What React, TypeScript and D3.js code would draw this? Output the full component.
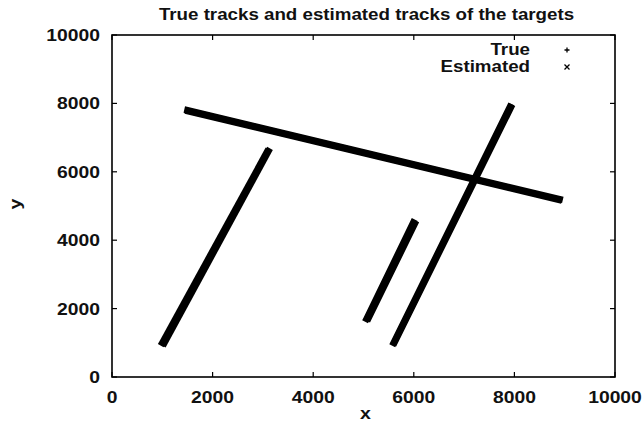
import React, { useRef, useEffect } from "react";
import * as d3 from "d3";

// track endpoints, [x, y]
const trueTracks: [number, number][][] = [
  [[1000, 1000], [3080, 6580]],
  [[1500, 7800], [8900, 5200]],
  [[5100, 1720], [6020, 4480]],
  [[5620, 1020], [7930, 7880]],
];
const estTracks: [number, number][][] = [
  [[1040, 990], [3110, 6600]],
  [[1520, 7770], [8880, 5180]],
  [[5060, 1700], [5990, 4520]],
  [[5600, 1000], [7910, 7900]],
];
const xTicks = [0, 2000, 4000, 6000, 8000, 10000];
const yTicks = [0, 2000, 4000, 6000, 8000, 10000];
const titleText = "True tracks and estimated tracks of the targets";
const legendLabels = ["True", "Estimated"];

const FONT = "'Liberation Sans', Arial, Helvetica, sans-serif";
const SX = 1.15; // text in the scan is a bit wide

const TrackChart = () => {
  const ref = useRef<SVGSVGElement>(null);

  const draw = (elt: SVGSVGElement) => {
    const margin = { top: 35, right: 29, bottom: 46, left: 112 };
    const W = 644, H = 423;
    const width = W - margin.left - margin.right;
    const height = H - margin.top - margin.bottom;

    const root = d3.select(elt);
    root.selectAll("*").remove();
    root.append("rect").attr("width", W).attr("height", H).attr("fill", "#fff");

    const svg = root.append("g").attr("transform", `translate(${margin.left},${margin.top})`);

    const x = d3.scaleLinear().domain([0, 10000]).range([0, width]);
    const y = d3.scaleLinear().domain([0, 10000]).range([height, 0]);

    // helper for the stretched, heavy labels
    const label = (g: any, tx: number, ty: number, txt: string, anchor: string, size: number, rot = 0) => {
      g.append("g")
        .attr("transform", `translate(${tx},${ty}) rotate(${rot}) scale(${SX},1)`)
        .append("text")
        .attr("text-anchor", anchor)
        .attr("font-family", FONT)
        .attr("font-size", size)
        .attr("font-weight", "bold")
        .attr("fill", "#111")
        .text(txt);
    };

    // frame
    svg.append("rect")
      .attr("width", width).attr("height", height)
      .attr("fill", "none").attr("stroke", "#000").attr("stroke-width", 1.6);

    // ticks (inward, mirrored)
    const tl = 5;
    const tick = (x1: number, y1: number, x2: number, y2: number) =>
      svg.append("line").attr("x1", x1).attr("y1", y1).attr("x2", x2).attr("y2", y2)
        .attr("stroke", "#000").attr("stroke-width", 1.2);
    xTicks.forEach(d => {
      tick(x(d), height, x(d), height - tl);
      tick(x(d), 0, x(d), tl);
    });
    yTicks.forEach(d => {
      tick(0, y(d), tl, y(d));
      tick(width, y(d), width - tl, y(d));
    });

    // tick labels
    xTicks.forEach(d => label(svg, x(d), height + 26, String(d), "middle", 16.8));
    yTicks.forEach(d => label(svg, -12, y(d) + 6, String(d), "end", 16.8));

    // axis labels
    label(svg, width / 2 + 2, height + 42, "x", "middle", 17);
    label(svg, -91, height / 2 - 2, "y", "middle", 17, -90);

    // title
    label(root, margin.left + width / 2 + 3, 20, titleText, "middle", 16.3);

    // tracks
    const line = d3.line<[number, number]>()
      .x(d => x(d[0]))
      .y(d => y(d[1]));

    svg.append("g").selectAll("path").data(trueTracks).enter().append("path")
      .attr("d", d => line(d))
      .attr("fill", "none").attr("stroke", "#000")
      .attr("stroke-width", 6.5).attr("stroke-linecap", "square");
    svg.append("g").selectAll("path").data(estTracks).enter().append("path")
      .attr("d", d => line(d))
      .attr("fill", "none").attr("stroke", "#000")
      .attr("stroke-width", 6.5).attr("stroke-linecap", "square");

    // legend
    legendLabels.forEach((lab, i) => label(svg, 418, 20 + i * 17, lab, "end", 16.3));
    const px = 455, s = 2.5;
    svg.append("path")
      .attr("d", `M${px - s},${15} H${px + s} M${px},${15 - s} V${15 + s}`)
      .attr("stroke", "#000").attr("stroke-width", 1.3);
    svg.append("path")
      .attr("d", `M${px - s},${32 - s} L${px + s},${32 + s} M${px - s},${32 + s} L${px + s},${32 - s}`)
      .attr("stroke", "#000").attr("stroke-width", 1.3);
  };

  useEffect(() => {
    if (ref.current) draw(ref.current);
  }, []);

  return <svg ref={ref} width={644} height={423} style={{ display: "block" }} />;
};

export default function App() {
  return (
    <div style={{ position: "absolute", left: 0, top: 0 }}>
      <TrackChart />
    </div>
  );
}
